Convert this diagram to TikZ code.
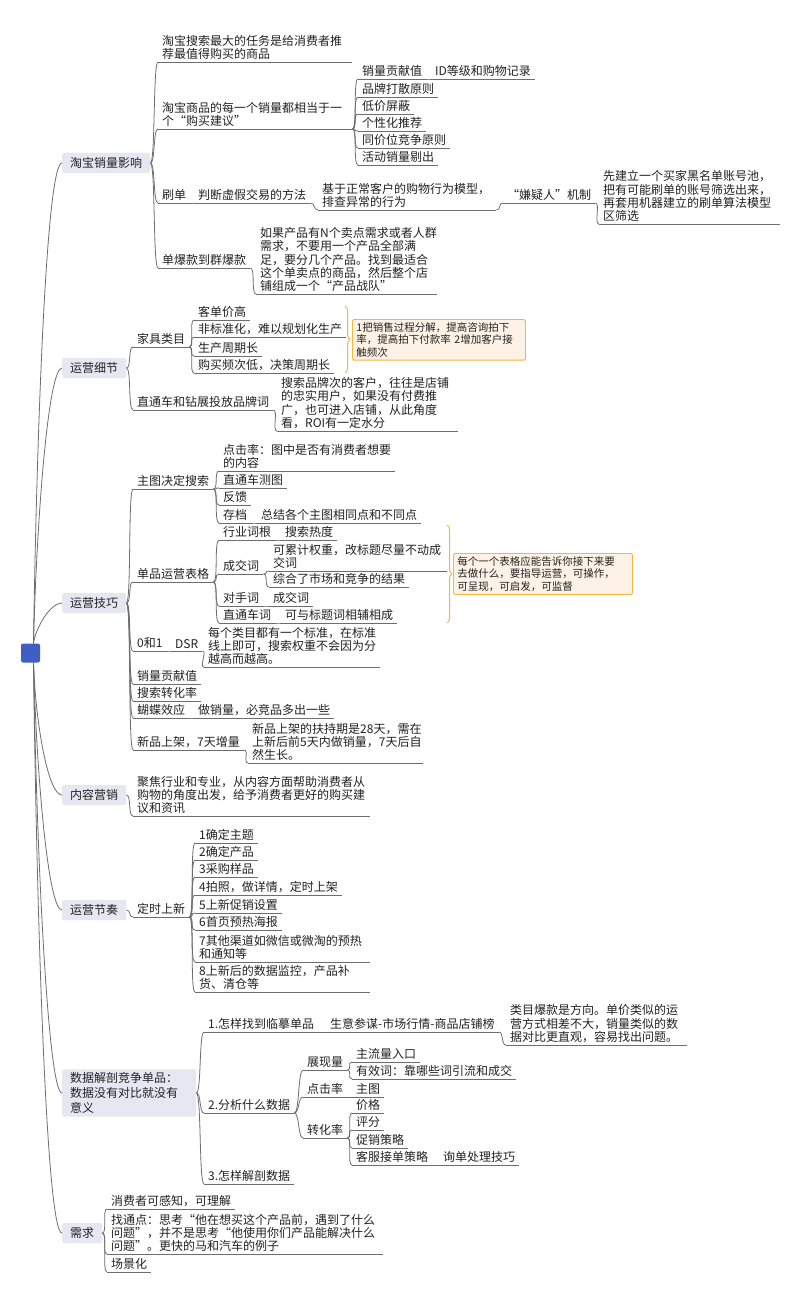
\documentclass[tikz,border=0pt]{standalone}
\usepackage{fontspec}
\setmainfont{Noto Sans CJK SC}
\usetikzlibrary{decorations.pathreplacing}
\definecolor{txt}{HTML}{222222}
\definecolor{ln}{HTML}{6E6E6E}
\definecolor{boxfill}{HTML}{E6E7F2}
\definecolor{rootblue}{HTML}{3F5FC4}
\definecolor{orng}{HTML}{F5B53F}
\definecolor{calfill}{HTML}{FEF2E6}
\newcommand\cn[2]{\draw[conn] (#1) .. controls +(5,0) and +(-5,0) .. (#2.south west);}
\tikzset{
  conn/.style={draw=ln, line width=0.8pt},
  tp/.style={anchor=south west, inner xsep=4pt, inner ysep=2pt, align=left, text=txt, font=\fontsize{12}{13.3}\selectfont},
  mainbox/.style={fill=boxfill, rounded corners=2pt, inner xsep=8pt, inner ysep=3pt, minimum height=20pt, text=txt, font=\fontsize{12}{15}\selectfont, anchor=west, align=left},
  rootbox/.style={fill=rootblue, rounded corners=2pt, minimum size=19pt, inner sep=0pt},
  callout/.style={draw=orng, fill=calfill, line width=0.9pt, rounded corners=1.5pt, inner xsep=4pt, inner ysep=3pt, anchor=north west, align=left, text=txt, font=\fontsize{10.5}{12.5}\selectfont},
  bracestyle/.style={draw=orng, line width=1pt, decorate, decoration={brace, amplitude=5pt}}
}
\begin{document}
\begin{tikzpicture}[x=1pt,y=-1pt]
\fill[white] (0,0) rectangle (800,1305);
\useasboundingbox (0,0) rectangle (800,1305);

% root and main topics
\node[rootbox] (root) at (30.5,653) {};
\node[mainbox] (m1) at (62,163) {淘宝销量影响};
\node[mainbox] (m2) at (62,368) {运营细节};
\node[mainbox] (m3) at (62,603) {运营技巧};
\node[mainbox] (m4) at (62,795) {内容营销};
\node[mainbox] (m5) at (62,910) {运营节奏};
\node[mainbox, text width=118pt] (m6) at (62,1093) {数据解剖竞争单品：\\数据没有对比就没有\\意义};
\node[mainbox] (m7) at (62,1233) {需求};

\draw[conn] ([xshift=3]root.north) .. controls +(3,-200) and +(-16,0) .. (m1.west);
\draw[conn] ([xshift=3]root.north) .. controls +(3,-120) and +(-14,0) .. (m2.west);
\draw[conn] ([xshift=3]root.north) .. controls +(2,-15) and +(-12,0) .. (m3.west);
\draw[conn] ([xshift=3]root.south) .. controls +(2,60) and +(-14,0) .. (m4.west);
\draw[conn] ([xshift=3]root.south) .. controls +(3,110) and +(-14,0) .. (m5.west);
\draw[conn] ([xshift=3]root.south) .. controls +(3,190) and +(-14,0) .. (m6.west);
\draw[conn] ([xshift=3]root.south) .. controls +(3,240) and +(-16,0) .. (m7.west);

% section 1
\node[tp, text width=186pt] (a1) at (158,62) {淘宝搜索最大的任务是给消费者推\\荐最值得购买的商品};
\node[tp, text width=186pt] (a2) at (158,129) {淘宝商品的每一个销量都相当于一\\个“购买建议”};
\node[tp] (a21) at (358,79) {销量贡献值};
\node[tp] (a21x) at (431,79) {ID等级和购物记录};
\node[tp] (a22) at (358,97) {品牌打散原则};
\node[tp] (a23) at (358,114) {低价屏蔽};
\node[tp] (a24) at (358,131) {个性化推荐};
\node[tp] (a25) at (358,148) {同价位竞争原则};
\node[tp] (a26) at (358,165) {活动销量剔出};
\node[tp] (a3) at (158,203) {刷单};
\node[tp] (a3x) at (194,203) {判断虚假交易的方法};
\node[tp, text width=170pt] (a3b) at (318,210) {基于正常客户的购物行为模型，\\排查异常的行为};
\node[tp] (a3c) at (503,203) {“嫌疑人”机制};
\node[tp, text width=173pt] (a3d) at (599,224) {先建立一个买家黑名单账号池，\\把有可能刷单的账号筛选出来，\\再套用机器建立的刷单算法模型\\区筛选};
\node[tp] (a4) at (158,268) {单爆款到群爆款};
\node[tp, text width=173pt] (a4a) at (256,294) {如果产品有N个卖点需求或者人群\\需求，不要用一个产品全部满\\足，要分几个产品。找到最适合\\这个单卖点的商品，然后整个店\\铺组成一个“产品战队”};

\cn{m1.east}{a1} \cn{m1.east}{a2} \cn{m1.east}{a3} \cn{m1.east}{a4}
\cn{a2.south east}{a21} \cn{a2.south east}{a22} \cn{a2.south east}{a23}
\cn{a2.south east}{a24} \cn{a2.south east}{a25} \cn{a2.south east}{a26}
\cn{a21.south east}{a21x}
\cn{a3.south east}{a3x} \cn{a3x.south east}{a3b} \cn{a3b.south east}{a3c} \cn{a3c.south east}{a3d}
\cn{a4.south east}{a4a}

% section 2
\node[tp] (b1) at (133,347) {家具类目};
\node[tp] (b11) at (194,320) {客单价高};
\node[tp] (b12) at (194,337) {非标准化，难以规划化生产};
\node[tp] (b13) at (194,356) {生产周期长};
\node[tp] (b14) at (194,373) {购买频次低，决策周期长};
\node[tp] (b2) at (133,410) {直通车和钻展投放品牌词};
\node[tp, text width=173pt] (b2a) at (277,431) {搜索品牌次的客户，往往是店铺\\的忠实用户，如果没有付费推\\广，也可进入店铺，从此角度\\看，ROI有一定水分};
\node[callout, text width=165pt] (k1) at (352,319) {1把销售过程分解，提高咨询拍下\\率，提高拍下付款率 2增加客户接\\触频次};
\draw[bracestyle] (345,306) -- (345,373);

\cn{m2.east}{b1} \cn{m2.east}{b2}
\cn{b1.south east}{b11} \cn{b1.south east}{b12} \cn{b1.south east}{b13} \cn{b1.south east}{b14}
\cn{b2.south east}{b2a}

% section 3
\node[tp] (c1) at (133,489) {主图决定搜索};
\node[tp, text width=168pt] (c11) at (219,471) {点击率：图中是否有消费者想要\\的内容};
\node[tp] (c12) at (219,488) {直通车测图};
\node[tp] (c13) at (219,505) {反馈};
\node[tp] (c14) at (219,523) {存档};
\node[tp] (c14x) at (257,523) {总结各个主图相同点和不同点};
\node[tp] (c2) at (133,582) {单品运营表格};
\node[tp] (c21) at (219,540) {行业词根};
\node[tp] (c21x) at (281,540) {搜索热度};
\node[tp] (c22) at (219,574) {成交词};
\node[tp, text width=170pt] (c221) at (269,571) {可累计权重，改标题尽量不动成\\交词};
\node[tp] (c222) at (269,587) {综合了市场和竞争的结果};
\node[tp] (c23) at (219,606) {对手词};
\node[tp] (c23x) at (269,606) {成交词};
\node[tp] (c24) at (219,623) {直通车词};
\node[tp] (c24x) at (281,623) {可与标题词相辅相成};
\node[tp] (c3) at (133,651) {0和1};
\node[tp] (c3x) at (171,651) {DSR};
\node[tp, text width=168pt] (c3b) at (204,667) {每个类目都有一个标准，在标准\\线上即可，搜索权重不会因为分\\越高而越高。};
\node[tp] (c4) at (133,684) {销量贡献值};
\node[tp] (c5) at (133,701) {搜索转化率};
\node[tp] (c6) at (133,718) {蝴蝶效应};
\node[tp] (c6x) at (194,718) {做销量，必竞品多出一些};
\node[tp] (c7) at (133,750) {新品上架，7天增量};
\node[tp, text width=167pt] (c7b) at (248,763) {新品上架的扶持期是28天，需在\\上新后前5天内做销量，7天后自\\然生长。};
\node[callout, text width=171pt] (k2) at (453,553) {每个一个表格应能告诉你接下来要\\去做什么，要指导运营，可操作，\\可呈现，可启发，可监督};
\draw[bracestyle] (447,525) -- (447,623);

\cn{m3.east}{c1} \cn{m3.east}{c2} \cn{m3.east}{c3} \cn{m3.east}{c4}
\cn{m3.east}{c5} \cn{m3.east}{c6} \cn{m3.east}{c7}
\cn{c1.south east}{c11} \cn{c1.south east}{c12} \cn{c1.south east}{c13} \cn{c1.south east}{c14}
\cn{c14.south east}{c14x}
\cn{c2.south east}{c21} \cn{c2.south east}{c22} \cn{c2.south east}{c23} \cn{c2.south east}{c24}
\cn{c21.south east}{c21x} \cn{c22.south east}{c221} \cn{c22.south east}{c222}
\cn{c23.south east}{c23x} \cn{c24.south east}{c24x}
\cn{c3.south east}{c3x} \cn{c3x.south east}{c3b}
\cn{c6.south east}{c6x} \cn{c7.south east}{c7b}

% section 4
\node[tp, text width=229pt] (d1) at (133,816) {聚焦行业和专业，从内容方面帮助消费者从\\购物的角度出发，给予消费者更好的购买建\\议和资讯};
\cn{m4.east}{d1}

% section 5
\node[tp] (e1) at (133,917) {定时上新};
\node[tp] (e11) at (195,843) {1确定主题};
\node[tp] (e12) at (195,860) {2确定产品};
\node[tp] (e13) at (195,877) {3采购样品};
\node[tp] (e14) at (195,895) {4拍照，做详情，定时上架};
\node[tp] (e15) at (195,913) {5上新促销设置};
\node[tp] (e16) at (195,930) {6首页预热海报};
\node[tp, text width=167pt] (e17) at (195,962) {7其他渠道如微信或微淘的预热\\和通知等};
\node[tp, text width=167pt] (e18) at (195,992) {8上新后的数据监控，产品补\\货、清仓等};
\cn{m5.east}{e1}
\foreach \n in {e11,e12,e13,e14,e15,e16,e17,e18} {\cn{e1.south east}{\n}}

% section 6
\node[tp] (f1) at (204,1032) {1.怎样找到临摹单品};
\node[tp] (f1x) at (326,1032) {生意参谋-市场行情-商品店铺榜};
\node[tp, text width=173pt] (f1y) at (506,1045) {类目爆款是方向。单价类似的运\\营方式相差不大，销量类似的数\\据对比更直观，容易找出问题。};
\node[tp] (f2) at (204,1113) {2.分析什么数据};
\node[tp] (f21) at (303,1070) {展现量};
\node[tp] (f211) at (352,1062) {主流量入口};
\node[tp] (f212) at (352,1079) {有效词：靠哪些词引流和成交};
\node[tp] (f22) at (303,1097) {点击率};
\node[tp] (f22x) at (352,1097) {主图};
\node[tp] (f23) at (303,1138) {转化率};
\node[tp] (f231) at (352,1113) {价格};
\node[tp] (f232) at (352,1130) {评分};
\node[tp] (f233) at (352,1148) {促销策略};
\node[tp] (f234) at (352,1165) {客服接单策略};
\node[tp] (f234x) at (439,1165) {询单处理技巧};
\node[tp] (f3) at (204,1184) {3.怎样解剖数据};
\cn{m6.east}{f1} \cn{m6.east}{f2} \cn{m6.east}{f3}
\cn{f1.south east}{f1x} \cn{f1x.south east}{f1y}
\cn{f2.south east}{f21} \cn{f2.south east}{f22} \cn{f2.south east}{f23}
\cn{f21.south east}{f211} \cn{f21.south east}{f212}
\cn{f22.south east}{f22x}
\cn{f23.south east}{f231} \cn{f23.south east}{f232} \cn{f23.south east}{f233} \cn{f23.south east}{f234}
\cn{f234.south east}{f234x}

% section 7
\node[tp] (g1) at (107,1209) {消费者可感知，可理解};
\node[tp, text width=268pt] (g2) at (107,1254) {找通点：思考“他在想买这个产品前，遇到了什么\\问题”，并不是思考“他使用你们产品能解决什么\\问题”。更快的马和汽车的例子};
\node[tp] (g3) at (107,1272) {场景化};
\cn{m7.east}{g1} \cn{m7.east}{g2} \cn{m7.east}{g3}

% underlines
\foreach \n in {a1,a2,a21,a21x,a22,a23,a24,a25,a26,a3,a3x,a3b,a3c,a3d,a4,a4a,
  b1,b11,b12,b13,b14,b2,b2a,
  c1,c11,c12,c13,c14,c14x,c2,c21,c21x,c22,c221,c222,c23,c23x,c24,c24x,c3,c3x,c3b,c4,c5,c6,c6x,c7,c7b,
  d1,e1,e11,e12,e13,e14,e15,e16,e17,e18,
  f1,f1x,f1y,f2,f21,f211,f212,f22,f22x,f23,f231,f232,f233,f234,f234x,f3,
  g1,g2,g3}
  {\draw[conn] (\n.south west) -- (\n.south east);}
\end{tikzpicture}
\end{document}
